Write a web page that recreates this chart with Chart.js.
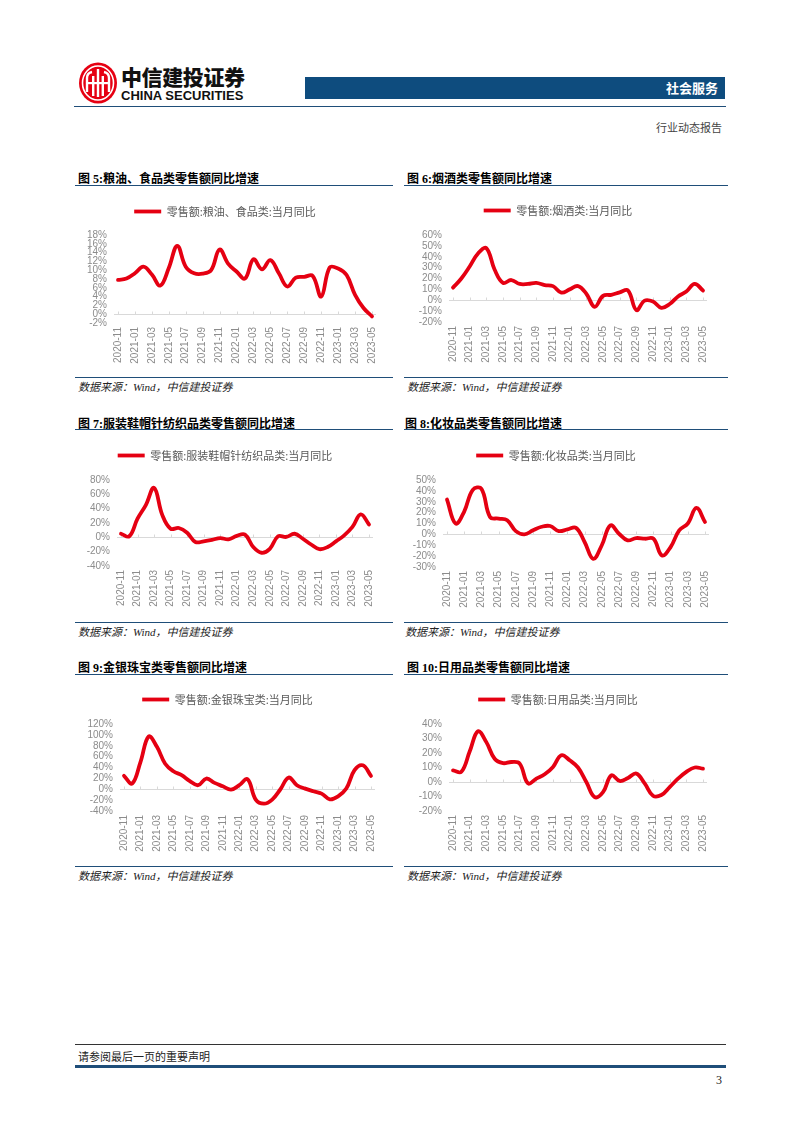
<!DOCTYPE html>
<html lang="zh-CN">
<head>
<meta charset="UTF-8">
<title>社会服务 - 行业动态报告</title>
<script src="https://cdn.jsdelivr.net/npm/chart.js"></script>
<style>
  body { margin: 0; background: #fff; }
  #page { position: relative; width: 802px; height: 1133px; overflow: hidden; font-family: "Noto Sans CJK SC", sans-serif; }
  .abs { position: absolute; white-space: nowrap; }
  .title { font-family: "Liberation Serif", "Noto Sans CJK SC", serif; font-weight: bold; font-size: 12px; color: #000; }
  .rule { position: absolute; height: 0; border-top: 1.5px solid #1f4e79; }
  .source { font-family: "Liberation Serif", "Noto Sans CJK SC", serif; font-style: italic; font-size: 11px; color: #222; }
  canvas { position: absolute; }
</style>
</head>
<body>
<div id="page">
  <!-- 页眉 -->
  <svg class="abs" style="left:78px;top:61px" width="42" height="44" viewBox="0 0 42 44">
    <ellipse cx="20" cy="22" rx="19" ry="20.5" fill="#e60012"/>
    <ellipse cx="20" cy="22" rx="15.5" ry="17" fill="none" stroke="#fff" stroke-width="1.6"/>
    <path d="M9 31 V17 Q9 12 14 11" fill="none" stroke="#fff" stroke-width="2.4"/>
    <path d="M31 31 V17 Q31 12 26 11" fill="none" stroke="#fff" stroke-width="2.4"/>
    <rect x="14" y="15" width="2.4" height="20" fill="#fff"/>
    <rect x="23.6" y="15" width="2.4" height="20" fill="#fff"/>
    <rect x="18.8" y="8" width="2.4" height="28" fill="#fff"/>
    <rect x="9" y="21" width="22" height="2.2" fill="#fff"/>
  </svg>
  <div class="abs" style="left:121px;top:65px;font-size:21px;line-height:22px;font-weight:900;color:#111;letter-spacing:-0.4px">中信建投证券</div>
  <div class="abs" style="left:121px;top:89px;font-family:'Liberation Sans',Arial,sans-serif;font-size:13px;line-height:13px;font-weight:bold;color:#111">CHINA SECURITIES</div>
  <div class="abs" style="left:305px;top:77px;width:420px;height:22px;background:#0e4c7e"></div>
  <div class="abs" style="left:305px;top:78px;width:413px;text-align:right;font-size:13px;font-weight:bold;color:#fff;line-height:20px">社会服务</div>
  <div class="rule" style="left:74px;top:106px;width:652px"></div>
  <div class="abs" style="left:600px;top:119px;width:122px;text-align:right;font-size:11px;color:#444">行业动态报告</div>

  <!-- 图表标题与来源 -->
  <div class="abs title" style="left:78px;top:169px">图 5:粮油、食品类零售额同比增速</div>
  <div class="abs title" style="left:407px;top:169px">图 6:烟酒类零售额同比增速</div>
  <div class="rule" style="left:75px;top:185px;width:318px"></div>
  <div class="rule" style="left:404px;top:185px;width:324px"></div>
  <div class="rule" style="left:75px;top:377px;width:318px"></div>
  <div class="rule" style="left:404px;top:377px;width:324px"></div>
  <div class="abs source" style="left:78px;top:378px">数据来源：Wind，中信建投证券</div>
  <div class="abs source" style="left:407px;top:378px">数据来源：Wind，中信建投证券</div>

  <div class="abs title" style="left:78px;top:414px">图 7:服装鞋帽针纺织品类零售额同比增速</div>
  <div class="abs title" style="left:405px;top:414px">图 8:化妆品类零售额同比增速</div>
  <div class="rule" style="left:75px;top:429px;width:318px"></div>
  <div class="rule" style="left:404px;top:429px;width:324px"></div>
  <div class="rule" style="left:75px;top:622px;width:318px"></div>
  <div class="rule" style="left:404px;top:622px;width:324px"></div>
  <div class="abs source" style="left:78px;top:623px">数据来源：Wind，中信建投证券</div>
  <div class="abs source" style="left:405px;top:623px">数据来源：Wind，中信建投证券</div>

  <div class="abs title" style="left:78px;top:658px">图 9:金银珠宝类零售额同比增速</div>
  <div class="abs title" style="left:407px;top:658px">图 10:日用品类零售额同比增速</div>
  <div class="rule" style="left:75px;top:674px;width:318px"></div>
  <div class="rule" style="left:404px;top:674px;width:324px"></div>
  <div class="rule" style="left:75px;top:866px;width:318px"></div>
  <div class="rule" style="left:404px;top:866px;width:324px"></div>
  <div class="abs source" style="left:78px;top:867px">数据来源：Wind，中信建投证券</div>
  <div class="abs source" style="left:407px;top:867px">数据来源：Wind，中信建投证券</div>

  <!-- 图表 -->
  <canvas id="c5"></canvas>
  <canvas id="c6"></canvas>
  <canvas id="c7"></canvas>
  <canvas id="c8"></canvas>
  <canvas id="c9"></canvas>
  <canvas id="c10"></canvas>

  <!-- 页脚 -->
  <div class="abs" style="left:75px;top:1044px;width:651px;border-top:1px solid #333"></div>
  <div class="abs" style="left:78px;top:1048px;font-size:11px;color:#222">请参阅最后一页的重要声明</div>
  <div class="abs" style="left:75px;top:1065px;width:651px;border-top:3px solid #1f4e79"></div>
  <div class="abs" style="left:700px;top:1073px;width:22px;text-align:right;font-family:'Liberation Serif',serif;font-size:12px;color:#222">3</div>
</div>

<script>
// 月份（横轴）
const months = ['2020-11', '2020-12', '2021-01', '2021-02', '2021-03', '2021-04', '2021-05', '2021-06',
  '2021-07', '2021-08', '2021-09', '2021-10', '2021-11', '2021-12', '2022-01', '2022-02', '2022-03',
  '2022-04', '2022-05', '2022-06', '2022-07', '2022-08', '2022-09', '2022-10', '2022-11', '2022-12',
  '2023-01', '2023-02', '2023-03', '2023-04', '2023-05'];

// 当月同比 (%)
const foodYoY = [7.8, 8.1, 9.3, 10.8, 9.0, 6.5, 10.5, 15.5, 10.8, 9.3, 9.2, 10.0, 14.7, 11.5, 9.7, 8.1,
  12.5, 10.2, 12.3, 9.3, 6.3, 8.3, 8.5, 8.7, 4.0, 10.6, 10.4, 8.9, 4.4, 1.4, -0.5];
const liquorYoY = [11.6, 20, 31, 43, 48, 28, 16, 18.6, 15, 15, 16, 14, 13, 7, 10, 13,
  6, -6, 4, 5, 7.3, 9, -9, -0.3, -1.2, -7, -3.5, 3.5, 8, 15, 9];
const clothingYoY = [5, 1.5, 26, 45, 69, 31, 12, 13, 6.5, -6.5, -5.6, -3.7, -1, -2.8, 2, 3.7,
  -13.5, -21.5, -16, 1.5, 0.5, 5, -2, -10, -16.5, -13.5, -5.6, 2.8, 14.5, 32, 18];
const cosmeticsYoY = [32, 10, 21, 41, 42, 16, 14.5, 13, 3, 0, 3.7, 7, 7.7, 3, 4.6, 6,
  -7, -22.5, -10, 8.3, 0.6, -5.5, -3.4, -4, -4, -19.4, -11.7, 3.7, 10, 24.3, 11.4];
const jewelryYoY = [24.6, 10.5, 50, 97, 78, 47, 33, 26, 15, 7.4, 19.7, 11.7, 5.5, -0.6, 7.4, 18.5,
  -19, -26.5, -19, 0, 21.5, 7.4, 1.2, -3.7, -8, -18.5, -13, 1.2, 35, 44, 24.6];
const dailyYoY = [8, 7, 21, 35, 27.5, 16, 13, 13.8, 12.7, -1, 2.3, 5.3, 10.4, 18.5, 15, 10,
  0, -10.4, -7, 4.6, 0.7, 2.8, 5.8, -1, -9.5, -9, -3.5, 2.3, 7, 10, 9.2];

const lineRed = '#e50012';
const tickGray = '#8c8c8c';

// 0 轴线 + 小刻度
const zeroLine = {
  id: 'zeroLine',
  beforeDatasetsDraw(chart) {
    const { ctx, chartArea, scales: { x, y } } = chart;
    const y0 = Math.round(y.getPixelForValue(0)) + 0.5;
    ctx.save();
    ctx.strokeStyle = '#d9d9d9';
    ctx.lineWidth = 1;
    ctx.beginPath();
    ctx.moveTo(chartArea.left - 4, y0);
    ctx.lineTo(chartArea.right + 4, y0);
    x.ticks.forEach((t, i) => {
      if (i % 2 === 0) {
        const px = Math.round(x.getPixelForTick(i)) + 0.5;
        ctx.moveTo(px, y0);
        ctx.lineTo(px, y0 - 3);
      }
    });
    ctx.stroke();
    ctx.restore();
  }
};

// 图例下方留白
const legendGap = {
  id: 'legendGap',
  beforeLayout(chart, args, opts) {
    const lg = chart.legend;
    if (lg && !lg._gapPatched) {
      const fit = lg.fit;
      lg.fit = function () { fit.call(this); this.height += opts.extra; };
      lg._gapPatched = true;
    }
  }
};

function drawChart(id, label, values, yMin, yMax, yStep, box) {
  // box: 绘图区首末点 x、上下边界 y、图例中心 y
  const yAxisW = 40, xAxisH = 45, padRight = 16;
  const left = box.plotL - yAxisW;
  const top = box.legendY - 6;
  const width = box.plotR + padRight - left;
  const height = box.plotB + xAxisH - top;
  const canvas = document.getElementById(id);
  canvas.width = width;
  canvas.height = height;
  canvas.style.left = left + 'px';
  canvas.style.top = top + 'px';

  return new Chart(canvas.getContext('2d'), {
    type: 'line',
    data: {
      labels: months,
      datasets: [{
        label: label,
        data: values,
        borderColor: lineRed,
        backgroundColor: lineRed,
        borderWidth: 3.8,
        borderCapStyle: 'round',
        pointRadius: 0,
        tension: 0.4,
        fill: false,
        clip: false
      }]
    },
    options: {
      responsive: false,
      animation: false,
      layout: { padding: { left: 0, right: padRight, top: 0, bottom: 0 } },
      plugins: {
        legend: {
          display: true,
          position: 'top',
          labels: {
            usePointStyle: true,
            pointStyle: 'line',
            pointStyleWidth: 27,
            padding: 0,
            color: '#595959',
            font: { family: '"Noto Sans CJK SC", sans-serif', size: 11 }
          }
        },
        legendGap: { extra: box.plotT - (top + 21) },
        tooltip: { enabled: false }
      },
      scales: {
        x: {
          offset: false,
          grid: { display: false, drawTicks: false },
          border: { display: false },
          afterFit(scale) { scale.height = xAxisH; },
          ticks: {
            autoSkip: false,
            minRotation: 90,
            maxRotation: 90,
            padding: 4,
            color: tickGray,
            font: { family: '"Liberation Sans", Arial, sans-serif', size: 10 },
            callback: (v, i) => (i % 2 === 0 ? months[i] : '')
          }
        },
        y: {
          min: yMin,
          max: yMax,
          grid: { display: false, drawTicks: false },
          border: { display: false },
          afterFit(scale) { scale.width = yAxisW; },
          ticks: {
            stepSize: yStep,
            autoSkip: false,
            padding: 11,
            color: tickGray,
            font: { family: '"Liberation Sans", Arial, sans-serif', size: 10 },
            callback: v => v + '%'
          }
        }
      }
    },
    plugins: [zeroLine, legendGap]
  });
}

drawChart('c5', '零售额:粮油、食品类:当月同比', foodYoY, -2, 18, 2,
  { plotL: 118, plotR: 372, plotT: 235, plotB: 323, legendY: 212 });
drawChart('c6', '零售额:烟酒类:当月同比', liquorYoY, -20, 60, 10,
  { plotL: 453, plotR: 703, plotT: 235, plotB: 322, legendY: 211 });
drawChart('c7', '零售额:服装鞋帽针纺织品类:当月同比', clothingYoY, -40, 80, 20,
  { plotL: 121, plotR: 369, plotT: 480, plotB: 566, legendY: 456 });
drawChart('c8', '零售额:化妆品类:当月同比', cosmeticsYoY, -30, 50, 10,
  { plotL: 447, plotR: 705, plotT: 480, plotB: 567, legendY: 456 });
drawChart('c9', '零售额:金银珠宝类:当月同比', jewelryYoY, -40, 120, 20,
  { plotL: 124, plotR: 371, plotT: 724, plotB: 811, legendY: 700 });
drawChart('c10', '零售额:日用品类:当月同比', dailyYoY, -20, 40, 10,
  { plotL: 453, plotR: 703, plotT: 724, plotB: 811, legendY: 700 });
</script>
</body>
</html>
